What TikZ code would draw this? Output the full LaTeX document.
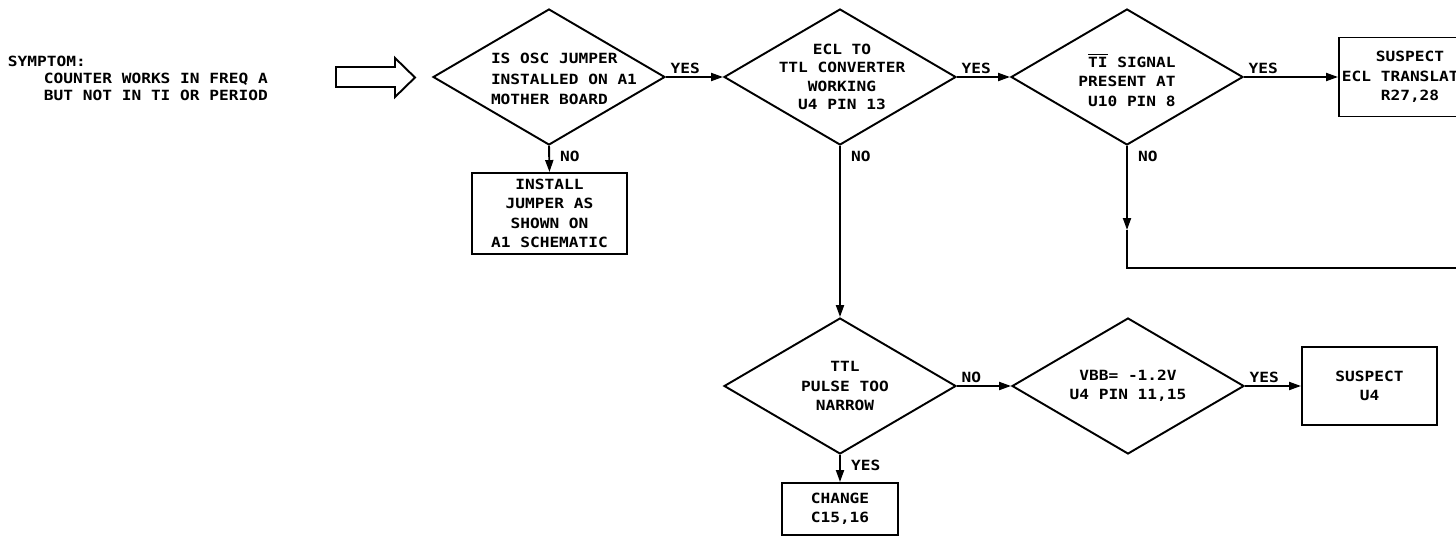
\documentclass[tikz,border=0pt]{standalone}
\usepackage{fontspec}
\setmainfont{DejaVu Sans Mono}[FakeStretch=1.15]
\usetikzlibrary{shapes.geometric,arrows.meta,positioning}

\begin{document}
\begin{tikzpicture}[x=0.02cm,y=-0.02cm,line width=1.1pt,
  font=\bfseries\fontsize{8}{11}\selectfont,
  decision/.style={diamond,draw,minimum width=4.64cm,minimum height=2.72cm,inner sep=0pt},
  action/.style={rectangle,draw,inner sep=0pt,align=center},
  flow/.style={-{Triangle[length=2.4mm,width=1.6mm]}},
  tag/.style={inner sep=1.5pt}]
  \useasboundingbox (0,0) rectangle (1456,541);
  % sintoma
  \node[anchor=west,inner sep=0pt] (symptom) at (7,61) {SYMPTOM:};
  \node[anchor=north west,align=left,inner sep=0pt,font=\bfseries\fontsize{8}{9.7}\selectfont] (symdesc) at (43,72)
    {COUNTER WORKS IN FREQ A\\BUT NOT IN TI OR PERIOD};
  \draw (336,67)--(395,67)--(395,58)--(415,77.5)--(395,97)--(395,87)--(336,87)--cycle;
  % fila de arriba
  \node[decision,label={[align=left,xshift=0.3cm,yshift=-0.04cm,font=\bfseries\fontsize{8}{11.5}\selectfont]center:IS OSC JUMPER\\INSTALLED ON A1\\MOTHER BOARD}] (osc) at (549,77) {};
  \node[decision,label={[align=center,xshift=0.04cm,font=\bfseries\fontsize{8}{10.5}\selectfont]center:ECL TO\\TTL CONVERTER\\WORKING\\U4 PIN 13}] (ecl) at (840,77) {};
  \node[decision,label={[align=right,yshift=-0.06cm]center:$\overline{\mbox{TI}}$ SIGNAL\\PRESENT AT\\U10 PIN 8}] (tisig) at (1127,77) {};
  \node[action,minimum width=2.84cm,minimum height=1.58cm] (translator) at (1410,77) {SUSPECT\\ECL TRANSLATOR\\R27,28};
  \node[action,minimum width=3.1cm,minimum height=1.62cm] (jumper) at (549.5,213.5) {INSTALL\\JUMPER AS\\SHOWN ON\\A1 SCHEMATIC};
  % fila de abajo
  \node[decision,label={[align=center,xshift=0.1cm]center:TTL\\PULSE TOO\\NARROW}] (pulse) at (840,386) {};
  \node[decision,label={[align=center]center:VBB= -1.2V\\U4 PIN 11,15}] (vbb) at (1128,386) {};
  \node[action,minimum width=2.7cm,minimum height=1.56cm] (suspu4) at (1369.5,386) {SUSPECT\\U4};
  \node[action,minimum width=2.32cm,minimum height=1.04cm] (change) at (840,509) {CHANGE\\C15,16};
  % flechas
  \draw[flow] (osc.east) -- (ecl.west) node[pos=0,anchor=south west,tag,xshift=0.02cm] {YES};
  \draw[flow] (ecl.east) -- (tisig.west) node[pos=0,anchor=south west,tag,xshift=0.02cm] {YES};
  \draw[flow] (tisig.east) -- (translator.west) node[pos=0,anchor=south west,tag,xshift=0.02cm] {YES};
  \draw[flow] (osc.south) -- (jumper.north) node[pos=0,anchor=north west,tag,xshift=0.15cm,yshift=-0.03cm] {NO};
  \draw[flow] (ecl.south) -- (pulse.north) node[pos=0,anchor=north west,tag,xshift=0.15cm,yshift=-0.03cm] {NO};
  \draw[flow] (pulse.east) -- (vbb.west) node[pos=0,anchor=south west,tag,xshift=0.02cm] {NO};
  \draw[flow] (vbb.east) -- (suspu4.west) node[pos=0,anchor=south west,tag,xshift=0.02cm] {YES};
  \draw[flow] (pulse.south) -- (change.north) node[pos=0,anchor=north west,tag,xshift=0.15cm,yshift=-0.03cm] {YES};
  \coordinate (tino) at (1127,230);
  \coordinate (titurn) at (1127,268);
  \coordinate (tiout) at (1470,268);
  \draw[flow] (tisig.south) -- (tino) node[pos=0,anchor=north west,tag,xshift=0.15cm,yshift=-0.03cm] {NO};
  \draw (tino) -- (titurn) -- (tiout);
\end{tikzpicture}
\end{document}
